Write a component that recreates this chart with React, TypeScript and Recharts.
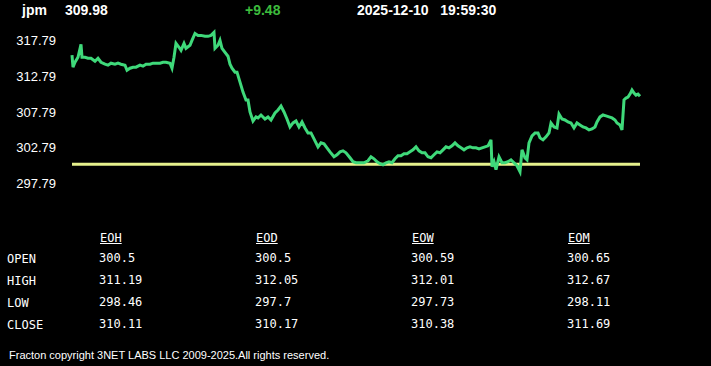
import { LineChart, Line, XAxis, YAxis, ReferenceLine } from "recharts";

// sample index across the session (0..568) and the price at that sample
const bars = [
  0, 1, 3, 6, 9, 10, 13, 16, 19, 23, 26, 29, 33, 36, 39, 43, 46, 49, 53, 55, 58, 61, 64, 68, 71, 74, 78, 81, 84, 88,
  91, 94, 98, 100, 102, 104, 107, 109, 112, 114, 118, 120, 123, 126, 129, 133, 136, 139, 142, 143, 146, 148, 150,
  153, 156, 158, 160, 163, 165, 168, 171, 174, 176, 178, 181, 184, 186, 189, 193, 196, 199, 203, 206, 209, 212, 215,
  218, 221, 224, 227, 230, 233, 236, 239, 242, 246, 249, 252, 255, 258, 262, 265, 268, 271, 274, 278, 281, 284, 288,
  292, 296, 299, 302, 305, 308, 311, 314, 317, 320, 323, 326, 329, 332, 335, 338, 341, 344, 347, 350, 353, 356, 359,
  362, 365, 368, 371, 374, 377, 380, 383, 386, 389, 392, 395, 398, 401, 404, 407, 410, 413, 416, 419, 420, 422, 424,
  427, 430, 433, 436, 439, 442, 445, 448, 450, 453, 455, 457, 460, 463, 466, 468, 471, 474, 477, 479, 482, 485, 487,
  490, 493, 496, 499, 502, 505, 508, 511, 514, 517, 520, 523, 525, 528, 531, 534, 537, 540, 543, 545, 548, 550, 552,
  554, 556, 558, 560, 562, 564, 566, 568,
];
const prices = [
  315.71, 314.04, 314.73, 315.43, 317.23, 315.43, 315.43, 315.29, 315.29, 314.87, 315.29, 314.73, 314.46, 314.32,
  314.6, 314.46, 314.6, 314.46, 314.32, 313.62, 313.9, 314.04, 314.04, 314.32, 314.18, 314.46, 314.46, 314.6, 314.6,
  314.6, 314.73, 314.73, 314.6, 313.9, 315.43, 317.37, 316.82, 316.4, 317.37, 316.68, 317.1, 317.79, 318.76, 318.48,
  318.48, 318.35, 318.35, 318.48, 318.9, 316.68, 317.1, 317.79, 316.68, 316.12, 315.57, 314.46, 313.9, 313.35, 313.35,
  311.96, 310.57, 309.46, 309.46, 307.79, 306.54, 307.1, 306.96, 307.37, 306.82, 307.1, 306.68, 307.65, 308.07,
  308.62, 307.79, 306.82, 305.71, 306.26, 306.54, 305.71, 306.4, 305.57, 304.87, 304.87, 304.04, 302.93, 303.49,
  303.35, 302.79, 302.23, 301.54, 301.82, 302.23, 302.37, 302.1, 301.4, 300.85, 300.71, 300.71, 300.71, 300.99,
  301.54, 301.26, 300.85, 300.57, 300.43, 300.71, 300.85, 300.71, 301.26, 301.68, 301.68, 301.96, 301.96, 302.23,
  302.51, 302.93, 302.37, 302.1, 302.1, 301.54, 301.4, 301.82, 302.23, 302.1, 302.51, 302.93, 302.79, 303.07, 303.49,
  303.07, 302.79, 302.51, 302.79, 302.93, 302.79, 302.79, 302.65, 302.79, 302.93, 303.07, 303.9, 300.15, 300.85,
  299.74, 301.54, 300.71, 300.71, 300.85, 301.12, 300.71, 300.29, 299.46, 302.51, 301.4, 301.12, 303.49, 304.46,
  304.87, 304.87, 304.18, 303.9, 304.32, 304.87, 306.26, 305.71, 305.57, 307.51, 306.82, 306.68, 306.4, 306.26,
  305.57, 306.26, 305.99, 305.71, 305.57, 305.29, 305.43, 305.71, 306.4, 307.1, 307.37, 307.24, 307.1, 306.96,
  306.68, 306.26, 305.99, 305.29, 309.46, 309.74, 309.87, 310.29, 310.85, 310.43, 310.15, 310.29, 309.98,
];

const prevClose = 300.5;
const yTicks = [297.79, 302.79, 307.79, 312.79, 317.79];

const symbol = "jpm";
const lastPrice = "309.98";
const change = "+9.48";
const date = "2025-12-10";
const time = "19:59:30";

const columns = ["EOH", "EOD", "EOW", "EOM"];
const rows = ["OPEN", "HIGH", "LOW", "CLOSE"];
const opens = ["300.5", "300.5", "300.59", "300.65"];
const highs = ["311.19", "312.05", "312.01", "312.67"];
const lows = ["298.46", "297.7", "297.73", "298.11"];
const closes = ["310.11", "310.17", "310.38", "311.69"];
const tableValues = [opens, highs, lows, closes];

const footer = "Fracton copyright 3NET LABS LLC 2009-2025.All rights reserved.";

const chartData = bars.map((b, i) => ({ bar: b, price: prices[i] }));

const sans = "'Liberation Sans', Arial, sans-serif";
const mono = "'DejaVu Sans Mono', monospace";

export default function App() {
  return (
    <div style={{ position: "relative", width: 711, height: 366, background: "#000", color: "#fff", fontFamily: sans }}>
      <style>{"body{margin:0;background:#000}"}</style>
      <div style={{ position: "absolute", top: 2, left: 22, fontSize: 14, fontWeight: "bold", lineHeight: "16px" }}>{symbol}</div>
      <div style={{ position: "absolute", top: 2, left: 65, fontSize: 14, fontWeight: "bold", lineHeight: "16px" }}>{lastPrice}</div>
      <div style={{ position: "absolute", top: 2, left: 245, fontSize: 14, fontWeight: "bold", lineHeight: "16px", color: "#3dbb3d" }}>{change}</div>
      <div style={{ position: "absolute", top: 2, left: 357, fontSize: 14, fontWeight: "bold", lineHeight: "16px", whiteSpace: "pre" }}>
        {`${date}   ${time}`}
      </div>

      <div style={{ position: "absolute", top: 0, left: 0 }}>
        <LineChart width={711} height={220} data={chartData} margin={{ top: 26, right: 71, bottom: 22, left: 0 }}>
          <XAxis dataKey="bar" type="number" domain={[0, 568]} hide />
          <YAxis
            type="number"
            domain={[295.79, 319.79]}
            ticks={yTicks}
            width={72}
            axisLine={false}
            tickLine={false}
            tickMargin={10}
            tick={{ fill: "#fff", fontSize: 13, fontFamily: sans }}
            tickFormatter={(v: number) => v.toFixed(2)}
            interval={0}
          />
          <ReferenceLine y={prevClose} stroke="#e6f08c" strokeWidth={3} />
          <Line type="linear" dataKey="price" stroke="#3fd97a" strokeWidth={3} dot={false} isAnimationActive={false} />
        </LineChart>
      </div>

      <div style={{ fontFamily: mono, fontSize: 12, lineHeight: "14px" }}>
        {columns.map((c, i) => (
          <div key={c} style={{ position: "absolute", top: 231, left: 100 + i * 156, textDecoration: "underline" }}>{c}</div>
        ))}
        {rows.map((r, ri) => (
          <div key={r}>
            <div style={{ position: "absolute", top: 252 + ri * 22, left: 7 }}>{r}</div>
            {tableValues[ri].map((v, ci) => (
              <div key={ci} style={{ position: "absolute", top: 251 + ri * 22, left: 99 + ci * 156 }}>{v}</div>
            ))}
          </div>
        ))}
      </div>

      <div style={{ position: "absolute", top: 348, left: 9, fontSize: 11, lineHeight: "14px" }}>{footer}</div>
    </div>
  );
}
